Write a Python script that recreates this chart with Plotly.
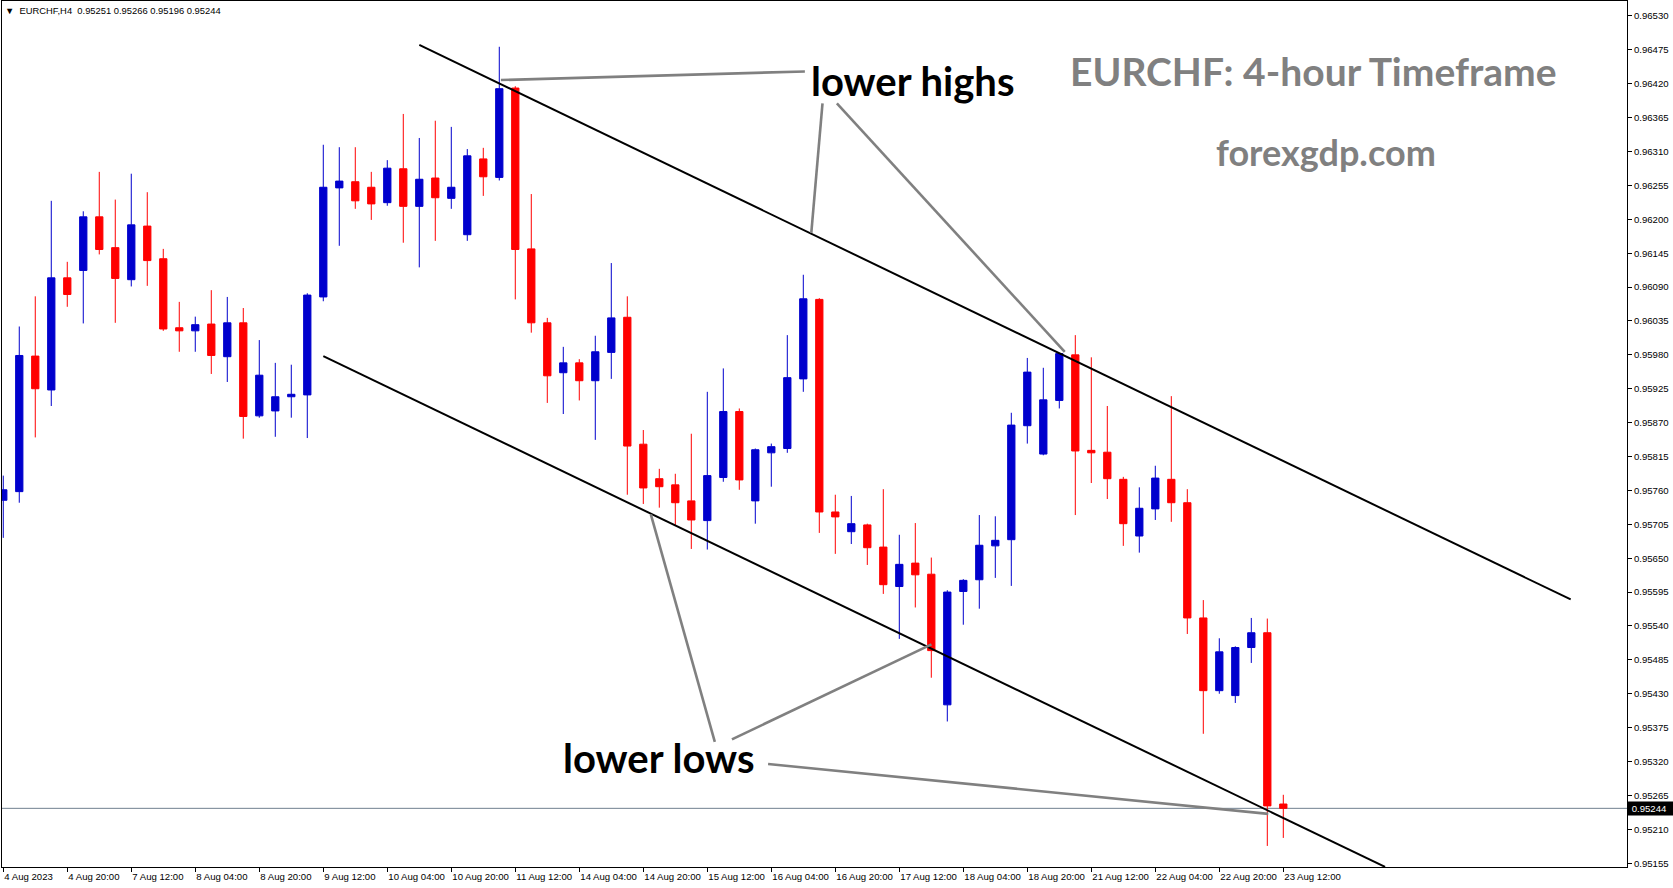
import plotly.graph_objects as go

# ---------------- data ----------------
symbol_header = "EURCHF,H4"
header_ohlc = ["0.95251", "0.95266", "0.95196", "0.95244"]

x_tick_labels = ["4 Aug 2023", "4 Aug 20:00", "7 Aug 12:00", "8 Aug 04:00", "8 Aug 20:00",
                 "9 Aug 12:00", "10 Aug 04:00", "10 Aug 20:00", "11 Aug 12:00", "14 Aug 04:00",
                 "14 Aug 20:00", "15 Aug 12:00", "16 Aug 04:00", "16 Aug 20:00", "17 Aug 12:00",
                 "18 Aug 04:00", "18 Aug 20:00", "21 Aug 12:00", "22 Aug 04:00", "22 Aug 20:00",
                 "23 Aug 12:00"]
bars_per_label = 4

y_tick_labels = ["0.96530", "0.96475", "0.96420", "0.96365", "0.96310", "0.96255", "0.96200",
                 "0.96145", "0.96090", "0.96035", "0.95980", "0.95925", "0.95870", "0.95815",
                 "0.95760", "0.95705", "0.95650", "0.95595", "0.95540", "0.95485", "0.95430",
                 "0.95375", "0.95320", "0.95265", "0.95210", "0.95155"]

opens = [0.95744, 0.95758, 0.95978, 0.95923, 0.96105, 0.96117, 0.96204, 0.96154, 0.96102, 0.96189,
         0.96136, 0.96024, 0.96019, 0.96030, 0.95977, 0.96032, 0.95881, 0.95889, 0.95912, 0.95915,
         0.96074, 0.96251, 0.96261, 0.96252, 0.96227, 0.96282, 0.96221, 0.96267, 0.96234, 0.96175,
         0.96298, 0.96268, 0.96413, 0.96152, 0.96032, 0.95951, 0.95967, 0.95938, 0.95984, 0.96041,
         0.95835, 0.95779, 0.95769, 0.95743, 0.95711, 0.95781, 0.95888, 0.95743, 0.95821, 0.95828,
         0.95941, 0.96070, 0.95725, 0.95693, 0.95704, 0.95668, 0.95604, 0.95642, 0.95624, 0.95412,
         0.95596, 0.95615, 0.95670, 0.95680, 0.95865, 0.95819, 0.95906, 0.95980, 0.95825, 0.95822,
         0.95778, 0.95686, 0.95730, 0.95778, 0.95740, 0.95553, 0.95435, 0.95427, 0.95505, 0.95529,
         0.95251]
highs = [0.95784, 0.96026, 0.96075, 0.96230, 0.96131, 0.96213, 0.96277, 0.96232, 0.96274, 0.96244,
         0.96152, 0.96066, 0.96042, 0.96085, 0.96074, 0.96056, 0.96004, 0.95967, 0.95964, 0.96080,
         0.96321, 0.96317, 0.96317, 0.96277, 0.96296, 0.96371, 0.96332, 0.96360, 0.96350, 0.96314,
         0.96316, 0.96480, 0.96416, 0.96241, 0.96040, 0.95993, 0.95973, 0.96011, 0.96129, 0.96075,
         0.95858, 0.95795, 0.95787, 0.95852, 0.95920, 0.95958, 0.95893, 0.95828, 0.95836, 0.96012,
         0.96110, 0.96072, 0.95753, 0.95751, 0.95706, 0.95762, 0.95688, 0.95707, 0.95651, 0.95598,
         0.95616, 0.95720, 0.95718, 0.95886, 0.95975, 0.95959, 0.95983, 0.96012, 0.95976, 0.95897,
         0.95782, 0.95765, 0.95800, 0.95913, 0.95762, 0.95582, 0.95520, 0.95507, 0.95553, 0.95552,
         0.95266]
lows = [0.95683, 0.95740, 0.95846, 0.95897, 0.96058, 0.96031, 0.96143, 0.96032, 0.96091, 0.96092,
        0.96019, 0.95985, 0.95985, 0.95949, 0.95936, 0.95844, 0.95878, 0.95847, 0.95878, 0.95845,
        0.96067, 0.96157, 0.96217, 0.96199, 0.96222, 0.96162, 0.96122, 0.96165, 0.96217, 0.96165,
        0.96238, 0.96263, 0.96070, 0.96016, 0.95902, 0.95884, 0.95906, 0.95842, 0.95941, 0.95753,
        0.95738, 0.95732, 0.95704, 0.95665, 0.95664, 0.95774, 0.95761, 0.95706, 0.95766, 0.95821,
        0.95920, 0.95691, 0.95657, 0.95673, 0.95639, 0.95592, 0.95519, 0.95570, 0.95456, 0.95385,
        0.95542, 0.95568, 0.95618, 0.95605, 0.95836, 0.95817, 0.95893, 0.95720, 0.95772, 0.95746,
        0.95670, 0.95659, 0.95712, 0.95709, 0.95527, 0.95365, 0.95430, 0.95415, 0.95480, 0.95183,
        0.95196]
closes = [0.95761, 0.95979, 0.95925, 0.96105, 0.96078, 0.96204, 0.96151, 0.96104, 0.96191, 0.96133,
          0.96022, 0.96019, 0.96029, 0.95979, 0.96032, 0.95880, 0.95947, 0.95912, 0.95916, 0.96077,
          0.96252, 0.96262, 0.96230, 0.96225, 0.96283, 0.96221, 0.96265, 0.96235, 0.96252, 0.96303,
          0.96269, 0.96412, 0.96151, 0.96032, 0.95946, 0.95967, 0.95938, 0.95985, 0.96040, 0.95832,
          0.95764, 0.95766, 0.95740, 0.95712, 0.95784, 0.95888, 0.95777, 0.95826, 0.95831, 0.95943,
          0.96071, 0.95725, 0.95717, 0.95706, 0.95667, 0.95607, 0.95640, 0.95623, 0.95500, 0.95595,
          0.95614, 0.95671, 0.95679, 0.95866, 0.95952, 0.95907, 0.95982, 0.95824, 0.95821, 0.95779,
          0.95706, 0.95731, 0.95780, 0.95740, 0.95553, 0.95435, 0.95498, 0.95505, 0.95529, 0.95248,
          0.95244]
bid_price = 0.95244

# channel trend lines (bar index, price)
upper_channel_x = [26.0, 97.96]
upper_channel_y = [0.96483, 0.95583]
lower_channel_x = [20.0, 86.36]
lower_channel_y = [0.95978, 0.95149]

# grey pointer lines (bar index, price)
pointer_lines = [
    ([31.1, 50.1], [0.96426, 0.96440]),
    ([51.2, 50.5], [0.96388, 0.96178]),
    ([52.1, 66.34], [0.96388, 0.95985]),
    ([40.47, 44.47], [0.95721, 0.95352]),
    ([45.54, 58.01], [0.95356, 0.95510]),
    ([47.8, 79.06], [0.95316, 0.95235]),
]

# ---------------- layout constants ----------------
W, H = 1673, 888
ML, MR, MT, MB = 2, 46, 1, 21
X_RANGE = [-0.08, 101.48]
Y_RANGE = [0.951488, 0.965543]
BLUE = "#0000CD"
RED = "#FF0000"
GREY = "#808080"
SMALL_FONT = "Liberation Sans, Arial, sans-serif"
BIG_FONT = "Lato, sans-serif"


def paper(xp, yp):
    return (xp - ML) / (W - ML - MR), (H - MB - yp) / (H - MT - MB)


idx = list(range(len(opens)))

fig = go.Figure()
fig.add_trace(go.Candlestick(
    x=idx, open=opens, high=highs, low=lows, close=closes,
    increasing=dict(line=dict(color=BLUE, width=1), fillcolor=BLUE),
    decreasing=dict(line=dict(color=RED, width=1), fillcolor=RED),
    whiskerwidth=0, showlegend=False, hoverinfo="skip",
))

fig.add_trace(go.Scatter(x=upper_channel_x, y=upper_channel_y, mode="lines",
                         line=dict(color="black", width=2), showlegend=False, hoverinfo="skip"))
fig.add_trace(go.Scatter(x=lower_channel_x, y=lower_channel_y, mode="lines",
                         line=dict(color="black", width=2), showlegend=False, hoverinfo="skip"))
for px_, py_ in pointer_lines:
    fig.add_trace(go.Scatter(x=px_, y=py_, mode="lines",
                             line=dict(color=GREY, width=2.6), showlegend=False, hoverinfo="skip"))

# bid line
fig.add_hline(y=bid_price, line=dict(color="#708090", width=1), layer="below")

annotations = []
# header
hx, hy = paper(3, 10)
annotations.append(dict(
    xref="paper", yref="paper", x=hx, y=hy, xanchor="left", yanchor="middle", showarrow=False,
    text="\u25BC\u00a0\u00a0" + symbol_header + "\u00a0\u00a0" + "\u00a0".join(header_ohlc),
    font=dict(family=SMALL_FONT, size=9.4, color="black")))

# bid price box
annotations.append(dict(
    xref="paper", yref="y", x=1.0, y=bid_price, xanchor="left", yanchor="middle", showarrow=False,
    text="\u00a0" + f"{bid_price:.5f}" + "\u00a0\u00a0", bgcolor="black", borderpad=1,
    font=dict(family=SMALL_FONT, size=9.6, color="white")))

big_texts = [
    ("lower highs", 809, 81, "black", 40),
    ("lower lows", 561, 758, "black", 40),
    ("EURCHF: 4-hour Timeframe", 1068, 71, GREY, 39),
    ("forexgdp.com", 1214, 152, GREY, 36),
]
for txt, xp, yp, col, sz in big_texts:
    ax_, ay_ = paper(xp, yp)
    annotations.append(dict(
        xref="paper", yref="paper", x=ax_, y=ay_, xanchor="left", yanchor="middle",
        showarrow=False, text="<b>" + txt + "</b>",
        font=dict(family=BIG_FONT, size=sz, color=col)))

fig.update_layout(
    width=W, height=H,
    margin=dict(l=ML, r=MR, t=MT, b=MB, pad=0, autoexpand=False),
    paper_bgcolor="white", plot_bgcolor="white",
    boxgap=0.35,
    showlegend=False,
    annotations=annotations,
    xaxis=dict(
        range=X_RANGE, rangeslider=dict(visible=False), automargin=False,
        showgrid=False, zeroline=False,
        showline=True, linecolor="black", linewidth=1, mirror=True,
        ticks="outside", ticklen=4, tickcolor="black", tickwidth=1,
        tickvals=[i * bars_per_label for i in range(len(x_tick_labels))],
        ticktext=x_tick_labels, ticklabelposition="outside right", tickangle=0,
        tickfont=dict(family=SMALL_FONT, size=9.6, color="black"),
    ),
    yaxis=dict(
        range=Y_RANGE, side="right", automargin=False,
        showgrid=False, zeroline=False,
        showline=True, linecolor="black", linewidth=1, mirror=True,
        ticks="outside", ticklen=4, tickcolor="black", tickwidth=1,
        tickvals=[float(v) for v in y_tick_labels], ticktext=y_tick_labels,
        tickfont=dict(family=SMALL_FONT, size=9.6, color="black"),
    ),
)

fig.write_html("out.html", config={"displayModeBar": False},
               post_script="document.body.style.margin='0';document.body.style.overflow='hidden';")
